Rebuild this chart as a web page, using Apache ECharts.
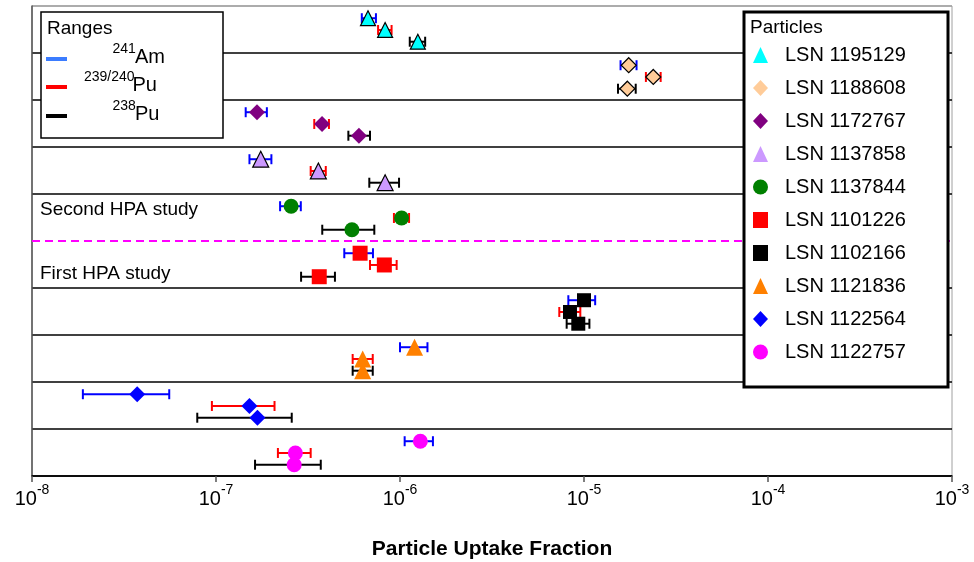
<!DOCTYPE html>
<html>
<head>
<meta charset="utf-8">
<script src="https://cdn.jsdelivr.net/npm/echarts@6/dist/echarts.min.js"></script>
<style>
  html, body { margin: 0; padding: 0; background: #fff; }
  #chart { width: 974px; height: 562px; }
</style>
</head>
<body>
<div id="chart"></div>
<script>
// Particle IDs, top band to bottom band
const particles = ['LSN 1195129', 'LSN 1188608', 'LSN 1172767', 'LSN 1137858', 'LSN 1137844',
                   'LSN 1101226', 'LSN 1102166', 'LSN 1121836', 'LSN 1122564', 'LSN 1122757'];

// 241Am uptake fraction with range
const amValue = [6.7e-7, 1.75e-5, 1.67e-7, 1.75e-7, 2.56e-7, 6.07e-7, 1.0e-5, 1.2e-6, 3.73e-8, 1.29e-6];
const amLow   = [6.2e-7, 1.58e-5, 1.45e-7, 1.52e-7, 2.23e-7, 4.98e-7, 8.22e-6, 1.0e-6, 1.89e-8, 1.06e-6];
const amHigh  = [7.4e-7, 1.93e-5, 1.89e-7, 2.0e-7, 2.89e-7, 7.13e-7, 1.15e-5, 1.41e-6, 5.57e-8, 1.51e-6];

// 239/240Pu uptake fraction with range
const pu239Value = [8.3e-7, 2.38e-5, 3.77e-7, 3.6e-7, 1.02e-6, 8.22e-7, 8.39e-6, 6.27e-7, 1.52e-7, 2.7e-7];
const pu239Low   = [7.6e-7, 2.17e-5, 3.42e-7, 3.27e-7, 9.27e-7, 6.87e-7, 7.34e-6, 5.53e-7, 9.5e-8, 2.17e-7];
const pu239High  = [9.0e-7, 2.61e-5, 4.11e-7, 3.95e-7, 1.12e-6, 9.59e-7, 9.55e-6, 7.11e-7, 2.08e-7, 3.27e-7];

// 238Pu uptake fraction with range
const pu238Value = [1.25e-6, 1.72e-5, 5.98e-7, 8.3e-7, 5.48e-7, 3.64e-7, 9.31e-6, 6.27e-7, 1.68e-7, 2.66e-7];
const pu238Low   = [1.13e-6, 1.53e-5, 5.24e-7, 6.81e-7, 3.78e-7, 2.9e-7, 8.05e-6, 5.53e-7, 7.91e-8, 1.63e-7];
const pu238High  = [1.37e-6, 1.91e-5, 6.87e-7, 9.88e-7, 7.25e-7, 4.43e-7, 1.07e-5, 7.11e-7, 2.58e-7, 3.71e-7];

const tickExponents = [-8, -7, -6, -5, -4, -3];

// marker appearance per particle
const markerColors = ['#00ffff', '#ffcc99', '#800080', '#cc99ff', '#008000',
                      '#ff0000', '#000000', '#ff8000', '#0000ff', '#ff00ff'];
const markerShapes = ['triangle', 'diamond', 'diamond', 'triangle', 'circle',
                      'rect', 'rect', 'triangle', 'diamond', 'circle'];
const markerSizes = [15, 15, 16, 16, 15, 15, 14, 17, 16, 15];
const markerBorder = [true, true, false, true, false, false, false, false, false, false];

// row offsets inside each band: Am, 239/240Pu, 238Pu
const rowOffset = [0.26, 0.51, 0.76];

const FONT = "'Liberation Sans', Arial, sans-serif";

function errorBarSeries(name, color, low, high, row) {
  return {
    name: name,
    type: 'custom',
    z: 2,
    silent: true,
    encode: { x: [0, 1], y: 2 },
    data: low.map((lo, i) => [lo, high[i], i + rowOffset[row]]),
    renderItem: function (params, api) {
      const y = api.value(2);
      const a = api.coord([api.value(0), y]);
      const b = api.coord([api.value(1), y]);
      const h = 5;
      const st = { stroke: color, lineWidth: 2 };
      return {
        type: 'group',
        children: [
          { type: 'line', shape: { x1: a[0], y1: a[1], x2: b[0], y2: b[1] }, style: st },
          { type: 'line', shape: { x1: a[0], y1: a[1] - h, x2: a[0], y2: a[1] + h }, style: st },
          { type: 'line', shape: { x1: b[0], y1: b[1] - h, x2: b[0], y2: b[1] + h }, style: st }
        ]
      };
    }
  };
}

const series = [
  errorBarSeries('241Am range', '#0000ff', amLow, amHigh, 0),
  errorBarSeries('239/240Pu range', '#ff0000', pu239Low, pu239High, 1),
  errorBarSeries('238Pu range', '#000000', pu238Low, pu238High, 2)
];

particles.forEach((p, i) => {
  const s = {
    name: p,
    type: 'scatter',
    z: 3,
    symbol: markerShapes[i],
    symbolSize: markerSizes[i],
    itemStyle: {
      color: markerColors[i],
      opacity: 1,
      borderColor: '#000',
      borderWidth: markerBorder[i] ? 1.2 : 0
    },
    data: [
      [amValue[i], i + rowOffset[0]],
      [pu239Value[i], i + rowOffset[1]],
      [pu238Value[i], i + rowOffset[2]]
    ]
  };
  if (i === 0) {
    // boundary between the second and first HPA studies
    s.markLine = {
      silent: true,
      symbol: 'none',
      label: { show: false },
      lineStyle: { color: '#ff00ff', type: [8, 5], width: 2 },
      data: [{ yAxis: 5 }]
    };
  }
  series.push(s);
});

// band separators: gray frame at top, magenta dashed line drawn separately at 5
const splitColors = ['#a0a0a0', '#000', '#000', '#000', '#000', 'rgba(0,0,0,0)',
                     '#000', '#000', '#000', '#000', '#000'];

const chart = echarts.init(document.getElementById('chart'), null, { renderer: 'canvas' });

chart.setOption({
  animation: false,
  backgroundColor: '#fff',
  textStyle: { fontFamily: FONT },
  grid: {
    left: 32, right: 22, top: 6, bottom: 86,
    containLabel: false,
    outerBoundsMode: 'none',
    show: true, borderColor: '#a0a0a0', borderWidth: 1, backgroundColor: 'transparent'
  },
  xAxis: {
    type: 'log',
    logBase: 10,
    position: 'bottom',
    min: Math.pow(10, tickExponents[0]),
    max: Math.pow(10, tickExponents[tickExponents.length - 1]),
    name: 'Particle Uptake Fraction',
    nameLocation: 'middle',
    nameGap: 63,
    nameTextStyle: { fontSize: 21, fontWeight: 'bold', color: '#000', fontFamily: FONT },
    axisLine: { onZero: false, lineStyle: { color: '#000', width: 1.5 } },
    axisTick: { show: true, length: 6, lineStyle: { color: '#555', width: 1.5 } },
    minorTick: { show: false },
    splitLine: { show: false },
    axisLabel: {
      margin: 7,
      color: '#000',
      formatter: function (v) {
        const e = Math.round(Math.log10(v));
        return '{b|10}{s|' + e + '}';
      },
      rich: {
        b: { fontSize: 20, fontFamily: FONT, color: '#000', verticalAlign: 'bottom', lineHeight: 26 },
        s: { fontSize: 14, fontFamily: FONT, color: '#000', verticalAlign: 'top', lineHeight: 14 }
      }
    }
  },
  yAxis: {
    type: 'value',
    min: 0,
    max: 10,
    interval: 1,
    inverse: true,
    axisLabel: { show: false },
    axisTick: { show: false },
    axisLine: { show: true, onZero: false, lineStyle: { color: '#555', width: 1.5 } },
    splitLine: { show: true, lineStyle: { color: splitColors, width: 1.5 } }
  },
  legend: {
    z: 20,
    orient: 'vertical',
    left: 753,
    top: 45,
    padding: 0,
    itemWidth: 15,
    itemHeight: 16,
    itemGap: 13,
    data: particles,
    itemStyle: { borderWidth: 0 },
    textStyle: { fontSize: 20, color: '#000', fontFamily: FONT, padding: [0, 0, 0, 12] },
    selectedMode: false
  },
  graphic: [
    // particles legend frame
    { type: 'rect', z: 15, shape: { x: 744, y: 12, width: 204, height: 375 },
      style: { fill: '#fff', stroke: '#000', lineWidth: 3 } },
    { type: 'text', z: 16, x: 750, y: 28,
      style: { text: 'Particles', font: '19px ' + FONT, fill: '#000', textVerticalAlign: 'middle' } },

    // ranges legend
    { type: 'rect', z: 15, shape: { x: 41, y: 12, width: 182, height: 126 },
      style: { fill: '#fff', stroke: '#000', lineWidth: 1.5 } },
    { type: 'text', z: 16, x: 47, y: 29,
      style: { text: 'Ranges', font: '19px ' + FONT, fill: '#000', textVerticalAlign: 'middle' } },
    { type: 'line', z: 16, shape: { x1: 46, y1: 59, x2: 67, y2: 59 }, style: { stroke: '#3b7cff', lineWidth: 4 } },
    { type: 'line', z: 16, shape: { x1: 46, y1: 87, x2: 67, y2: 87 }, style: { stroke: '#ff0000', lineWidth: 4 } },
    { type: 'line', z: 16, shape: { x1: 46, y1: 116, x2: 67, y2: 116 }, style: { stroke: '#000', lineWidth: 4 } },
    { type: 'text', z: 16, x: 112.5, y: 49,
      style: { text: '241', font: '14px ' + FONT, fill: '#000', textVerticalAlign: 'middle' } },
    { type: 'text', z: 16, x: 135, y: 57,
      style: { text: 'Am', font: '20px ' + FONT, fill: '#000', textVerticalAlign: 'middle' } },
    { type: 'text', z: 16, x: 84, y: 77,
      style: { text: '239/240', font: '14px ' + FONT, fill: '#000', textVerticalAlign: 'middle' } },
    { type: 'text', z: 16, x: 132.5, y: 85.5,
      style: { text: 'Pu', font: '20px ' + FONT, fill: '#000', textVerticalAlign: 'middle' } },
    { type: 'text', z: 16, x: 112.5, y: 106,
      style: { text: '238', font: '14px ' + FONT, fill: '#000', textVerticalAlign: 'middle' } },
    { type: 'text', z: 16, x: 135, y: 114,
      style: { text: 'Pu', font: '20px ' + FONT, fill: '#000', textVerticalAlign: 'middle' } },

    // study labels
    { type: 'text', z: 16, x: 40, y: 209.5,
      style: { text: 'Second HPA study', font: '19px ' + FONT, fill: '#000', textVerticalAlign: 'middle' } },
    { type: 'text', z: 16, x: 40, y: 273.5,
      style: { text: 'First HPA study', font: '19px ' + FONT, fill: '#000', textVerticalAlign: 'middle' } }
  ],
  series: series
});
</script>
</body>
</html>
